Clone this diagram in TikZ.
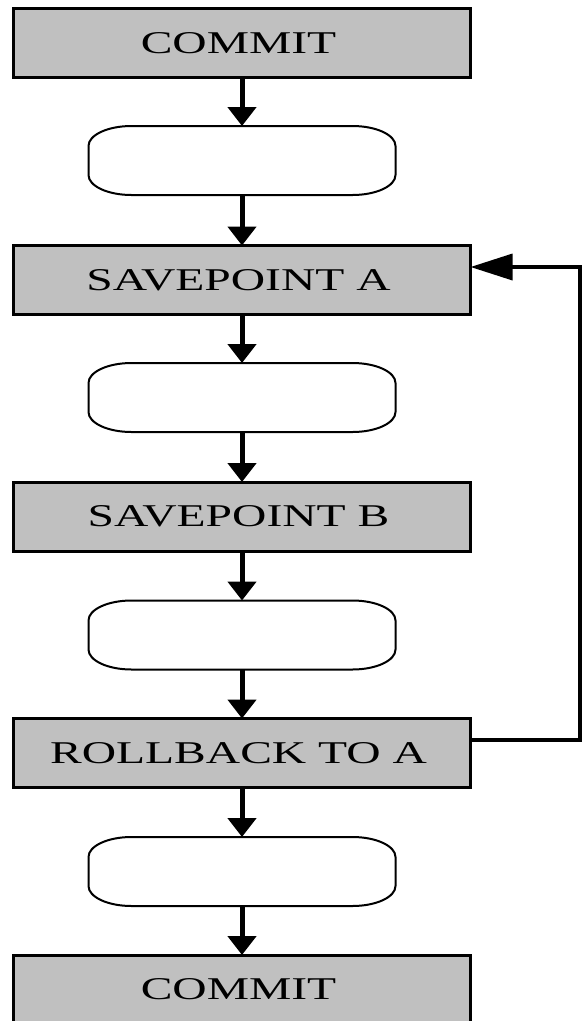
\documentclass[tikz,border=0pt]{standalone}
\usepackage{fontspec}
\setmainfont{Liberation Serif}
\usetikzlibrary{arrows.meta}
\definecolor{boxgray}{RGB}{192,192,192}
% widened caption text, nudged a little left of the box centre
\newcommand\boxtext[1]{\scalebox{1.5}[1]{#1}\hspace*{7pt}}
\begin{document}
\begin{tikzpicture}[x=1pt,y=-1pt,
  stepbox/.style={draw=black,line width=3pt,fill=boxgray,
    minimum width=457pt,minimum height=69pt,inner sep=0pt,outer sep=0pt,
    font=\fontsize{31.7}{34}\selectfont},
  capsule/.style={minimum width=307pt,minimum height=69pt,inner sep=0pt,outer sep=0pt},
  capline/.style={line width=2pt},
  flow/.style={line width=5pt,-{Triangle[length=19pt,width=28pt]}},
  back/.style={line width=3.5pt,-{Triangle[length=42pt,width=26pt]}}]
\clip (0,0) rectangle (582,1021);

% statements
\node[stepbox] (c1) at (242,43)    {\boxtext{COMMIT}};
\node[capsule] (o1) at (242,160.5) {};
\node[stepbox] (sa) at (242,280)   {\boxtext{SAVEPOINT A}};
\node[capsule] (o2) at (242,397.5) {};
\node[stepbox] (sb) at (242,516.5) {\boxtext{SAVEPOINT B}};
\node[capsule] (o3) at (242,635)   {};
\node[stepbox] (rb) at (242,753)   {\boxtext{ROLLBACK TO A}};
\node[capsule] (o4) at (242,871.5) {};
\node[stepbox] (c2) at (242,989.5) {\boxtext{COMMIT}};

% empty capsules with elliptical corners
\foreach \o in {o1,o2,o3,o4}
  \draw[capline] ([xshift=43pt]\o.north west) -- ([xshift=-43pt]\o.north east)
    arc[start angle=90,end angle=0,x radius=43pt,y radius=20pt]
    -- ([yshift=20pt]\o.south east)
    arc[start angle=0,end angle=-90,x radius=43pt,y radius=20pt]
    -- ([xshift=43pt]\o.south west)
    arc[start angle=270,end angle=180,x radius=43pt,y radius=20pt]
    -- ([yshift=-20pt]\o.north west)
    arc[start angle=180,end angle=90,x radius=43pt,y radius=20pt] -- cycle;

% downward flow
\draw[flow] (c1) -- (o1);
\draw[flow] (o1) -- (sa);
\draw[flow] (sa) -- (o2);
\draw[flow] (o2) -- (sb);
\draw[flow] (sb) -- (o3);
\draw[flow] (o3) -- (rb);
\draw[flow] (rb) -- (o4);
\draw[flow] (o4) -- (c2);

% rollback loop back to savepoint A
\coordinate (rx) at (580,0);
\draw[back] ([yshift=13pt]rb.east) -- ([yshift=13pt]rb.east -| rx)
  -- ([yshift=13pt]sa.east -| rx) -- ([yshift=13pt]sa.east);
\end{tikzpicture}
\end{document}
